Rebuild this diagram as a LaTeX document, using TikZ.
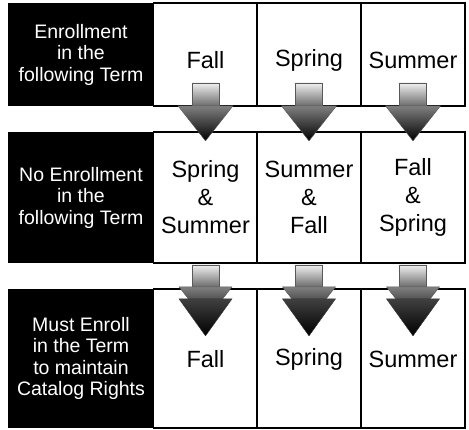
\documentclass[tikz,border=0pt]{standalone}
\usepackage{fontspec}
\setmainfont{Liberation Sans}
\usetikzlibrary{calc}

\tikzset{
  rowhead/.style={fill=black, text=white, inner sep=0pt, minimum width=146pt,
    align=center, font=\fontsize{19.5}{21.5}\selectfont},
  termcell/.style={draw, line width=1.8pt, inner sep=0pt, minimum width=104pt,
    align=center, font=\fontsize{23.5}{28}\selectfont},
  termtext/.style={inner sep=0pt, align=center, font=\fontsize{23.5}{28}\selectfont},
  arrowshaft/.style={draw=black!65, line width=0.4pt, top color=black!6, bottom color=black!58},
  arrowpoint/.style={draw=black!65, line width=0.4pt, top color=black!50, bottom color=black},
  arrowdark/.style={draw=black!80, line width=0.4pt, top color=black!75, bottom color=black},
}

\begin{document}
\begin{tikzpicture}[x=1pt, y=1pt]
\useasboundingbox (0,0) rectangle (469,430);

% row headers
\node[rowhead, minimum height=103pt] (enrolled) at (81,375.5) {Enrollment\\in the\\following Term};
\node[rowhead, minimum height=131pt] (skipped) at (81,232.5) {No Enrollment\\in the\\following Term};
\node[rowhead, minimum height=139pt] (mustenroll) at (81,71.5) {Must Enroll\\in the Term\\to maintain\\Catalog Rights};

% term cells
\foreach \x/\c/\first/\both/\last in {205.5/a/Fall/{Spring\\\&\\Summer}/Fall,
    309/b/Spring/{Summer\\\&\\Fall}/Spring, 413/c/Summer/{Fall\\\&\\Spring}/Summer} {
  \node[termcell, minimum height=103pt] (top\c) at (\x,375.5) {};
  \node[termtext] (toptext\c) at ([yshift=-6pt]top\c.center) {\first};
  \node[termcell, minimum height=131pt] (mid\c) at (\x,232.5) {\both};
  \node[termcell, minimum height=139pt] (bot\c) at (\x,71.5) {};
  \node[termtext] (bottext\c) at ([yshift=-1pt]bot\c.center) {\last};
}

% arrows between the rows
\foreach \c in {a,b,c} {
  \begin{scope}[shift={(top\c.south)}]
    \path[arrowshaft] (-13.5,24) rectangle (13.5,1);
    \path[arrowpoint] (-27.5,1) -- (27.5,1) -- (0,-34) -- cycle;
  \end{scope}
  \begin{scope}[shift={(mid\c.south)}]
    \path[arrowshaft] (-13.5,-1) rectangle (13.5,-23);
    \path[arrowpoint] (-26.5,-23) -- (26.5,-23) -- (0,-57) -- cycle;
    \path[arrowdark] (-26.5,-35) -- (26.5,-35) -- (0,-72) -- cycle;
  \end{scope}
}
\end{tikzpicture}
\end{document}
